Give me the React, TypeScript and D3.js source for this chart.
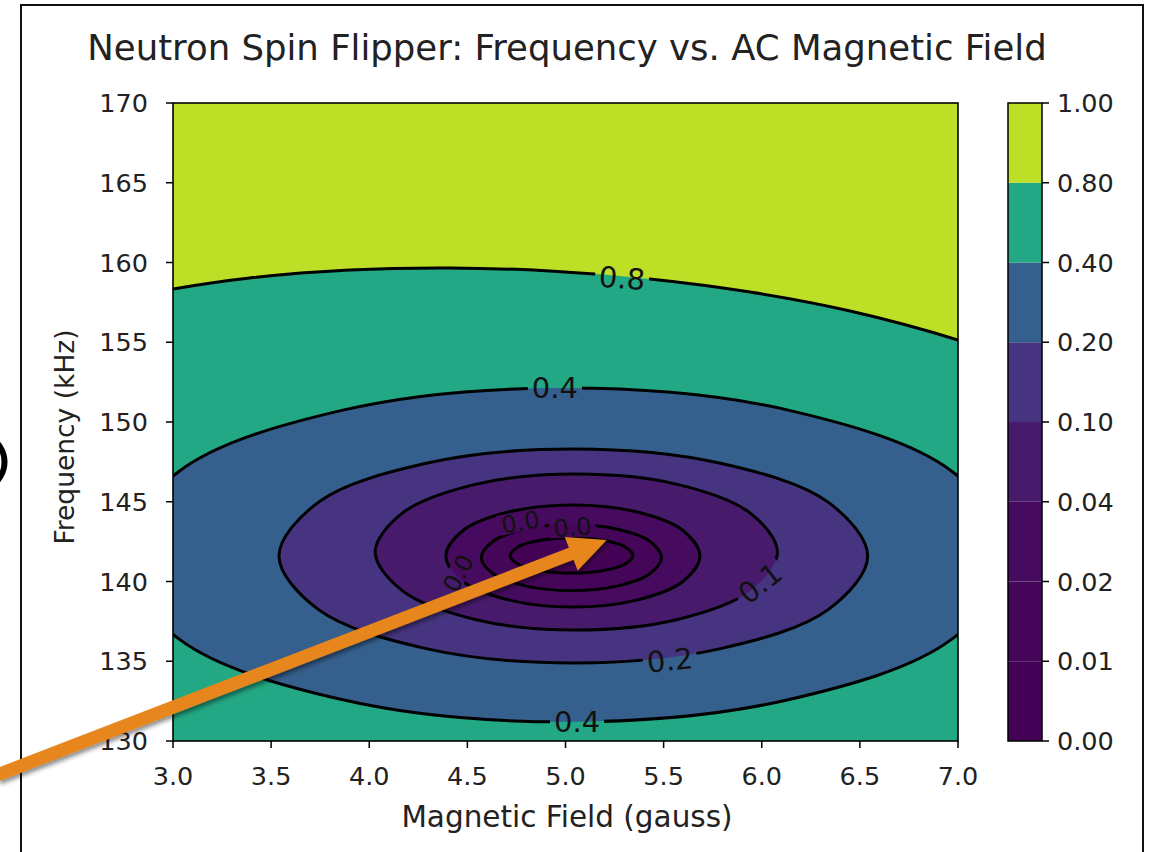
import React from 'react';
import * as d3 from 'd3';

const title = 'Neutron Spin Flipper: Frequency vs. AC Magnetic Field';
const xLabel = 'Magnetic Field (gauss)';
const yLabel = 'Frequency (kHz)';
const xTicks = [3.0, 3.5, 4.0, 4.5, 5.0, 5.5, 6.0, 6.5, 7.0];
const yTicks = [130, 135, 140, 145, 150, 155, 160, 165, 170];
const levels = [0, 0.01, 0.02, 0.04, 0.1, 0.2, 0.4, 0.8, 1.0];
const levelLabels = ['0.00', '0.01', '0.02', '0.04', '0.10', '0.20', '0.40', '0.80', '1.00'];

// contour geometry: [field (gauss), frequency (kHz)]
const line08: [number, number][] = [
  [2.9, 158.1], [3.0, 158.34], [3.39, 159.03], [3.9, 159.53], [4.41, 159.66], [4.92, 159.47],
  [5.43, 158.97], [5.94, 158.15], [6.45, 156.96], [7.0, 155.14], [7.1, 154.7],
];
const loop04: [number, number][] = [
  [7.28, 141.66], [6.97, 146.9], [6.14, 150.73], [5.0, 152.13], [3.86, 150.73], [3.03, 146.9],
  [2.72, 141.66], [3.03, 136.4], [3.86, 132.6], [5.0, 131.2], [6.14, 132.6], [6.97, 136.4],
];
const loop02: [number, number][] = [
  [6.54, 141.6], [6.34, 144.96], [5.79, 147.41], [5.04, 148.31], [4.29, 147.41], [3.74, 144.96],
  [3.54, 141.6], [3.74, 138.25], [4.29, 135.79], [5.04, 134.89], [5.79, 135.79], [6.34, 138.25],
];
const loop01: [number, number][] = [
  [6.08, 141.85], [5.94, 144.3], [5.57, 146.09], [5.05, 146.74], [4.54, 146.09], [4.17, 144.3],
  [4.03, 141.85], [4.17, 139.41], [4.54, 137.62], [5.05, 136.96], [5.57, 137.62], [5.94, 139.41],
];
const loop004: [number, number][] = [
  [5.685, 141.6], [5.598, 143.2], [5.362, 144.37], [5.038, 144.8], [4.715, 144.37], [4.478, 143.2],
  [4.391, 141.6], [4.478, 140.0], [4.715, 138.83], [5.038, 138.4], [5.362, 138.83], [5.598, 140.0],
];
const loop002: [number, number][] = [
  [5.489, 141.5], [5.428, 142.54], [5.26, 143.29], [5.03, 143.57], [4.801, 143.29], [4.633, 142.54],
  [4.571, 141.5], [4.633, 140.47], [4.801, 139.71], [5.03, 139.43], [5.26, 139.71], [5.428, 140.47],
];
const loop001: [number, number][] = [
  [5.344, 141.63], [5.302, 142.18], [5.188, 142.58], [5.031, 142.73], [4.875, 142.58], [4.76, 142.18],
  [4.718, 141.63], [4.76, 141.08], [4.875, 140.68], [5.031, 140.53], [5.188, 140.68], [5.302, 141.08],
];
const loops = [
  { level: 0.4, pts: loop04 },
  { level: 0.2, pts: loop02 },
  { level: 0.1, pts: loop01 },
  { level: 0.04, pts: loop004 },
  { level: 0.02, pts: loop002 },
  { level: 0.01, pts: loop001 },
];

const contourLabels = [
  { text: '0.8', b: 5.288, f: 159.03, angle: 4, size: 29 },
  { text: '0.4', b: 4.946, f: 152.13, angle: 0, size: 29 },
  { text: '0.4', b: 5.059, f: 131.19, angle: 0, size: 29 },
  { text: '0.2', b: 5.532, f: 135.08, angle: -6, size: 29 },
  { text: '0.1', b: 5.991, f: 139.9, angle: -38, size: 29 },
  { text: '0.0', b: 4.77, f: 143.73, angle: -10, size: 24 },
  { text: '0.0', b: 5.035, f: 143.42, angle: -4, size: 24 },
  { text: '0.0', b: 4.452, f: 140.53, angle: -62, size: 24 },
];

// annotation arrow (data coordinates)
const arrowTail: [number, number] = [2.1, 127.85];
const arrowTip: [number, number] = [5.21, 142.6];

const FONT = '"DejaVu Sans", sans-serif';

export default function App() {
  const W = 1153, H = 852;
  const P = { l: 173, r: 958, t: 103, b: 741 };
  const x = d3.scaleLinear().domain([3, 7]).range([P.l, P.r]);
  const y = d3.scaleLinear().domain([130, 170]).range([P.b, P.t]);
  const layerColor = (i: number) => d3.interpolateViridis((levels[i] + levels[i + 1]) / 2);
  const levelIndex = (v: number) => levels.indexOf(v);

  const closed = d3.line<[number, number]>().x(d => x(d[0])).y(d => y(d[1])).curve(d3.curveCatmullRomClosed);
  const open = d3.line<[number, number]>().x(d => x(d[0])).y(d => y(d[1])).curve(d3.curveCatmullRom);
  const topRegion = open(line08) + `L${x(7.1)},${y(171)}L${x(2.9)},${y(171)}Z`;

  const cb = { l: 1008, r: 1042 };
  const yc = d3.scaleLinear().domain([0, levels.length - 1]).range([P.b, P.t]);

  // arrow geometry
  const tx = x(arrowTip[0]), ty = y(arrowTip[1]);
  const sx = x(arrowTail[0]), sy = y(arrowTail[1]);
  const ang = Math.atan2(ty - sy, tx - sx);
  const headLen = 38, headHalf = 18;
  const bx = tx - headLen * Math.cos(ang), by = ty - headLen * Math.sin(ang);
  const nx = -Math.sin(ang), ny = Math.cos(ang);
  const head = `M${tx},${ty}L${bx + nx * headHalf},${by + ny * headHalf}L${bx - nx * headHalf},${by - ny * headHalf}Z`;

  return (
    <svg width={W} height={H} style={{ position: 'absolute', left: 0, top: 0, background: '#fff' }}>
      <defs>
        <clipPath id="plotClip">
          <rect x={P.l} y={P.t} width={P.r - P.l} height={P.b - P.t} />
        </clipPath>
        <mask id="lblMask" maskUnits="userSpaceOnUse" x={0} y={0} width={W} height={H}>
          <rect x={0} y={0} width={W} height={H} fill="#fff" />
          {contourLabels.map((l, i) => {
            const w = l.text.length * l.size * 0.53 + 8;
            return (
              <rect key={i} x={-w / 2} y={-l.size * 0.42} width={w} height={l.size * 0.84} fill="#000"
                transform={`translate(${x(l.b)},${y(l.f)}) rotate(${l.angle})`} />
            );
          })}
        </mask>
        <filter id="shadow" x="-10%" y="-10%" width="120%" height="130%">
          <feDropShadow dx="2" dy="3" stdDeviation="2" floodColor="#000" floodOpacity="0.45" />
        </filter>
      </defs>

      <rect x={0} y={0} width={W} height={H} fill="#fff" />
      {/* slide frame */}
      <rect x={21} y={5} width={1122} height={900} fill="none" stroke="#111" strokeWidth={2} />
      <path d="M -12 436 C 10 448 10 476 -12 488" fill="none" stroke="#000" strokeWidth={6} />

      {/* title */}
      <text x={567} y={60} textAnchor="middle" fontFamily={FONT} fontSize={35.5} fill="#222">{title}</text>

      {/* filled contours */}
      <g clipPath="url(#plotClip)">
        <rect x={P.l} y={P.t} width={P.r - P.l} height={P.b - P.t} fill={layerColor(6)} />
        <path d={topRegion} fill={layerColor(7)} />
        {loops.map((c, i) => (
          <path key={i} d={closed(c.pts) || ''} fill={layerColor(levelIndex(c.level) - 1)} />
        ))}
        <g mask="url(#lblMask)" fill="none" stroke="#000" strokeWidth={3}>
          <path d={open(line08) || ''} />
          {loops.map((c, i) => <path key={i} d={closed(c.pts) || ''} />)}
        </g>
        {contourLabels.map((l, i) => (
          <text key={i} transform={`translate(${x(l.b)},${y(l.f)}) rotate(${l.angle})`} textAnchor="middle"
            dy="0.36em" fontFamily={FONT} fontSize={l.size} fill="#111">{l.text}</text>
        ))}
      </g>
      <rect x={P.l} y={P.t} width={P.r - P.l} height={P.b - P.t} fill="none" stroke="#000" strokeWidth={1.6} />

      {/* x axis */}
      {xTicks.map((t, i) => (
        <g key={i}>
          <line x1={x(t)} x2={x(t)} y1={P.b} y2={P.b + 7} stroke="#000" strokeWidth={1.5} />
          <text x={x(t)} y={785} textAnchor="middle" fontFamily={FONT} fontSize={25.5} fill="#222">{t.toFixed(1)}</text>
        </g>
      ))}
      <text x={567} y={827} textAnchor="middle" fontFamily={FONT} fontSize={29.5} fill="#222">{xLabel}</text>

      {/* y axis */}
      {yTicks.map((t, i) => (
        <g key={i}>
          <line x1={P.l - 7} x2={P.l} y1={y(t)} y2={y(t)} stroke="#000" strokeWidth={1.5} />
          <text x={148} y={y(t)} dy="0.36em" textAnchor="end" fontFamily={FONT} fontSize={25.5} fill="#222">{t}</text>
        </g>
      ))}
      <text transform={`translate(74,${437}) rotate(-90)`} textAnchor="middle" fontFamily={FONT} fontSize={26.5} fill="#222">{yLabel}</text>

      {/* colorbar */}
      {levels.slice(0, -1).map((v, i) => (
        <rect key={i} x={cb.l} y={yc(i + 1)} width={cb.r - cb.l} height={yc(i) - yc(i + 1)} fill={layerColor(i)} />
      ))}
      <rect x={cb.l} y={P.t} width={cb.r - cb.l} height={P.b - P.t} fill="none" stroke="#000" strokeWidth={1.5} />
      {levelLabels.map((s, i) => (
        <g key={i}>
          <line x1={cb.r} x2={cb.r + 7} y1={yc(i)} y2={yc(i)} stroke="#000" strokeWidth={1.5} />
          <text x={1057} y={yc(i)} dy="0.36em" fontFamily={FONT} fontSize={25.5} fill="#222">{s}</text>
        </g>
      ))}

      {/* annotation arrow */}
      <g filter="url(#shadow)">
        <line x1={sx} y1={sy} x2={bx + 2 * Math.cos(ang)} y2={by + 2 * Math.sin(ang)} stroke="#e6861a" strokeWidth={13} />
        <path d={head} fill="#e6861a" />
      </g>
    </svg>
  );
}
